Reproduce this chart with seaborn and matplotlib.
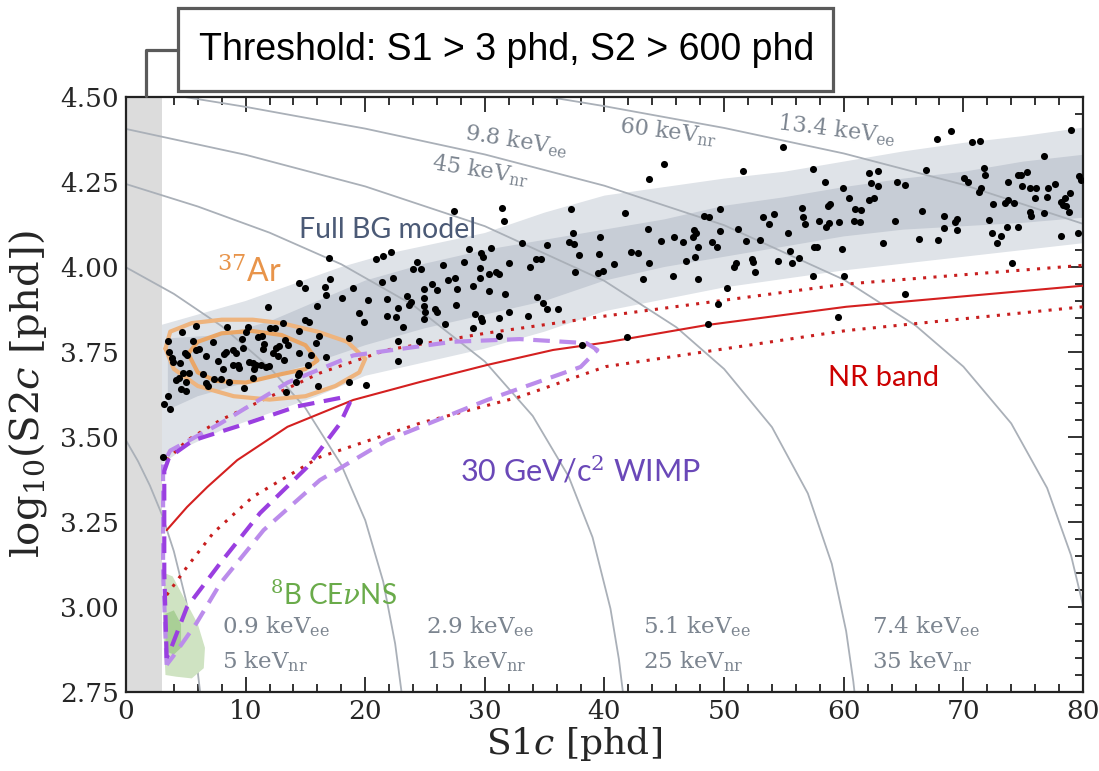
import numpy as np
import pandas as pd
import matplotlib
matplotlib.use("Agg")
import matplotlib.pyplot as plt
import seaborn as sns
from matplotlib.patches import Rectangle
from matplotlib.lines import Line2D

# ---------------- data ----------------
# background events (S1c [phd], log10 S2c)
bg_s1 = [14.49,14.97,17.06,16.67,16.75,18.95,18.06,11.85,15.94,19.51,19.93,14.99,15.33,5.85,4.68,8.42,10.17,12.07,12.43,13.10,
         14.49,16.17,18.67,3.48,5.57,7.25,10.03,11.01,11.34,9.70,13.27,3.62,4.96,5.07,5.85,6.08,6.69,8.22,8.36,8.92,
         9.20,9.75,11.51,11.43,12.54,12.82,13.52,12.26,12.68,13.24,15.89,16.72,15.47,14.49,3.85,3.96,4.52,7.66,8.92,9.39,
         10.31,10.59,10.87,11.29,11.71,11.98,10.73,15.19,8.08,9.48,4.74,5.30,6.41,4.18,4.46,7.39,7.94,8.64,10.59,9.89,
         6.69,6.83,5.02,4.60,5.02,14.49,14.35,14.21,13.38,3.48,3.21,3.68,16.03,18.67,20.07,3.09,17.00,
         27.45,31.41,31.64,37.21,37.35,39.64,33.09,35.20,37.02,37.49,28.71,29.68,29.88,30.55,22.16,21.46,20.91,37.91,39.58,34.28,34.70,
         24.33,23.97,24.67,26.48,28.24,29.63,32.05,33.78,37.55,39.44,39.91,22.36,21.38,26.90,27.54,29.60,30.38,30.94,31.22,25.56,
         26.01,24.89,27.65,28.99,30.38,31.69,20.21,21.83,23.50,23.83,23.64,22.77,24.89,24.89,25.03,25.84,25.98,27.60,34.34,34.90,
         35.18,36.10,21.83,22.58,24.89,26.65,29.18,29.69,29.77,31.22,32.05,33.59,23.19,28.99,31.22,22.72,24.47,22.72,38.13,
         54.90,44.95,43.75,51.56,57.41,58.44,59.92,41.75,49.69,48.35,48.77,56.52,58.66,58.86,56.57,53.29,54.20,53.79,56.80,57.97,
         58.75,58.52,59.58,43.67,51.14,49.69,47.52,47.66,47.43,44.73,45.84,46.54,49.00,49.41,47.80,51.84,53.01,55.35,55.54,57.55,
         57.75,59.86,42.22,42.83,47.60,52.34,
         40.83,43.75,46.82,50.86,51.00,52.45,54.54,55.65,56.24,52.62,43.20,45.76,47.80,57.41,60.00,50.25,49.47,48.63,41.86,59.50,
         68.98,67.78,70.74,71.35,78.96,76.70,66.89,71.71,71.77,70.09,70.37,71.49,71.29,62.10,62.90,62.29,62.85,64.46,65.16,60.42,
         62.07,62.51,60.98,61.45,60.84,61.37,64.30,66.55,68.42,69.26,69.48,68.42,69.48,63.27,66.33,67.86,72.18,72.46,73.72,74.55,
         74.83,75.31,74.89,75.58,76.09,77.06,77.62,77.01,76.00,73.72,73.52,74.27,75.61,75.67,76.78,78.18,78.46,78.32,78.60,78.88,
         78.82,79.63,79.85,79.57,78.12,72.38,73.16,72.80,73.63,74.55,74.08,65.16]
bg_log_s2 = [3.954,3.937,3.964,3.942,3.918,3.939,3.908,3.881,3.886,3.866,3.839,3.844,3.839,3.826,3.810,3.823,3.823,3.820,3.822,3.834,
             3.813,3.798,3.792,3.783,3.782,3.778,3.808,3.793,3.797,3.788,3.785,3.751,3.748,3.741,3.756,3.758,3.739,3.745,3.751,3.756,
             3.746,3.761,3.773,3.758,3.761,3.769,3.771,3.746,3.739,3.726,3.776,3.736,3.741,3.746,3.731,3.720,3.717,3.724,3.712,3.712,
             3.722,3.717,3.712,3.712,3.707,3.709,3.699,3.712,3.699,3.702,3.689,3.687,3.685,3.668,3.675,3.670,3.670,3.661,3.675,3.645,
             3.658,3.650,3.663,3.640,3.635,3.687,3.682,3.663,3.633,3.621,3.597,3.581,3.650,3.663,3.653,3.441,4.026,
             4.165,4.175,4.136,4.171,4.099,4.089,4.071,4.065,4.075,4.068,4.053,4.042,4.028,4.055,4.045,4.033,4.025,4.035,4.037,4.023,4.023,
             4.014,3.993,3.993,4.006,4.016,3.998,4.011,4.001,3.984,3.981,3.988,3.969,3.957,3.962,3.967,3.967,3.979,3.986,3.979,3.949,
             3.932,3.934,3.935,3.944,3.928,3.920,3.903,3.906,3.915,3.898,3.888,3.880,3.908,3.885,3.869,3.876,3.869,3.888,3.911,3.893,
             3.876,3.876,3.857,3.854,3.846,3.832,3.861,3.851,3.841,3.851,3.867,3.856,3.825,3.822,3.797,3.782,3.782,3.724,3.771,
             4.352,4.302,4.258,4.282,4.288,4.249,4.231,4.158,4.171,4.151,4.148,4.175,4.179,4.184,4.148,4.146,4.155,4.126,4.126,4.135,
             4.128,4.119,4.133,4.111,4.112,4.107,4.109,4.099,4.089,4.077,4.087,4.073,4.073,4.060,4.060,4.077,4.080,4.099,4.047,4.060,
             4.058,4.053,4.043,4.041,4.028,4.025,
             4.008,4.011,4.018,4.001,4.011,4.015,4.018,4.013,4.026,3.984,3.965,3.974,3.965,3.974,3.974,3.937,3.891,3.831,3.794,3.852,
             4.401,4.376,4.367,4.371,4.403,4.325,4.285,4.292,4.271,4.263,4.249,4.233,4.222,4.277,4.282,4.246,4.238,4.249,4.241,4.204,
             4.197,4.204,4.172,4.169,4.135,4.133,4.136,4.165,4.150,4.131,4.140,4.114,4.109,4.072,4.082,4.079,4.138,4.185,4.251,4.271,
             4.271,4.280,4.239,4.233,4.231,4.231,4.243,4.207,4.202,4.197,4.187,4.189,4.163,4.151,4.160,4.190,4.202,4.182,4.179,4.219,
             4.163,4.269,4.256,4.101,4.092,4.099,4.092,4.072,4.119,4.117,4.011,3.921]

# Full BG model bands (outer = light, inner = dark)
outer_up_x = [3.0, 6, 10, 14, 18, 22, 26, 30, 35, 40, 45, 50, 55, 60, 65, 70, 75, 80]
outer_up_y = [3.83, 3.86, 3.90, 3.95, 4.00, 4.04, 4.07, 4.10, 4.16, 4.21, 4.235, 4.26, 4.28, 4.31, 4.34, 4.365, 4.385, 4.41]
outer_lo_x = [3.0, 5, 8, 12, 16, 20, 25, 30, 35, 40, 50, 60, 70, 80]
outer_lo_y = [3.42, 3.47, 3.52, 3.57, 3.62, 3.68, 3.72, 3.76, 3.81, 3.87, 3.94, 3.99, 4.03, 4.07]
inner_up_x = [3.5, 8, 12, 16, 20, 25, 30, 35, 40, 45, 50, 55, 60, 65, 70, 75, 80]
inner_up_y = [3.79, 3.80, 3.84, 3.90, 3.96, 4.01, 4.05, 4.08, 4.11, 4.14, 4.18, 4.205, 4.235, 4.26, 4.28, 4.31, 4.33]
inner_lo_x = [3.5, 6, 10, 15, 20, 25, 30, 35, 40, 45, 50, 55, 60, 65, 70, 75, 80]
inner_lo_y = [3.58, 3.62, 3.66, 3.71, 3.77, 3.82, 3.86, 3.90, 3.96, 4.00, 4.03, 4.06, 4.09, 4.11, 4.12, 4.13, 4.145]

# constant-energy contours (grey)
arc09_x = [0, 1, 2, 3, 4, 5, 5.5, 5.8, 6.0, 6.2]
arc09_y = [3.490, 3.429, 3.357, 3.272, 3.164, 3.022, 2.928, 2.860, 2.808, 2.749]
arc29_x = [0, 4, 8, 12, 15, 18, 20, 21.5, 22.5, 23.0, 23.1]
arc29_y = [3.999, 3.921, 3.826, 3.705, 3.585, 3.418, 3.255, 3.075, 2.892, 2.759, 2.727]
arc51_x = [0, 6, 12, 18, 24, 30, 34, 37, 39, 40.5, 41.2, 41.6]
arc51_y = [4.244, 4.178, 4.101, 4.008, 3.888, 3.722, 3.562, 3.384, 3.205, 2.995, 2.847, 2.732]
arc74_x = [0, 10, 20, 30, 40, 46, 50, 54, 57, 59, 60.2, 60.8, 61.0]
arc74_y = [4.406, 4.330, 4.237, 4.120, 3.959, 3.823, 3.700, 3.529, 3.334, 3.127, 2.929, 2.781, 2.718]
arc98_x = [0, 10, 20, 30, 40, 50, 60, 66, 70, 74, 77, 79, 80]
arc98_y = [4.528, 4.471, 4.407, 4.331, 4.239, 4.123, 3.963, 3.828, 3.707, 3.540, 3.350, 3.152, 3.005]
arc134_x = [34, 40, 50, 60, 70, 80]
arc134_y = [4.508, 4.473, 4.409, 4.334, 4.242, 4.127]

# 37Ar contours
ar_out_x = [3.3, 3.7, 5.5, 8.0, 10.6, 13.0, 16.0, 18.5, 20.0, 19.5, 17.5, 15.0, 12.0, 9.0, 6.0, 4.0, 3.3]
ar_out_y = [3.76, 3.81, 3.835, 3.845, 3.845, 3.835, 3.81, 3.78, 3.73, 3.69, 3.65, 3.62, 3.61, 3.62, 3.65, 3.70, 3.76]
ar_in_x = [5.2, 6.0, 8.0, 10.5, 13.0, 15.0, 16.0, 15.0, 13.0, 10.0, 7.5, 6.0, 5.2]
ar_in_y = [3.745, 3.78, 3.805, 3.812, 3.80, 3.77, 3.725, 3.70, 3.685, 3.66, 3.665, 3.69, 3.745]

# 30 GeV WIMP contours
wimp_in_x = [3.4, 3.2, 3.2, 3.6, 5.6, 10.1, 14.3, 17.9, 18.7, 17.9, 15.1, 11.2, 7.9, 5.1, 3.7, 3.4]
wimp_in_y = [2.85, 3.10, 3.40, 3.44, 3.49, 3.54, 3.59, 3.615, 3.60, 3.54, 3.41, 3.276, 3.13, 3.00, 2.873, 2.85]
wimp_out_x = [3.4, 3.1, 3.1, 3.7, 7.9, 13.5, 19.0, 27.3, 32.9, 38.5, 39.4, 38.0, 30.2, 21.8, 16.2, 11.5, 7.9, 5.9, 3.9, 3.4]
wimp_out_y = [2.83, 3.10, 3.42, 3.46, 3.54, 3.66, 3.74, 3.78, 3.788, 3.776, 3.756, 3.706, 3.609, 3.49, 3.373, 3.226, 3.07, 2.953, 2.853, 2.83]

# NR band
nr_x = [3.4, 5.1, 6.8, 9.3, 13.5, 19.0, 24.6, 30.2, 35.7, 40.1, 48.5, 60.2, 80.0]
nr_med = [3.226, 3.294, 3.353, 3.432, 3.530, 3.609, 3.662, 3.712, 3.756, 3.778, 3.829, 3.883, 3.945]
nr_hi_x = [3.4, 5.1, 7.9, 12.0, 16.2, 21.8, 30.2, 40.1, 60.2, 80.0]
nr_hi = [3.432, 3.490, 3.550, 3.618, 3.688, 3.756, 3.806, 3.856, 3.950, 4.005]
nr_lo_x = [3.4, 5.1, 7.3, 10.6, 16.2, 24.6, 32.9, 40.1, 60.2, 80.0]
nr_lo = [3.035, 3.118, 3.218, 3.324, 3.441, 3.541, 3.618, 3.707, 3.813, 3.883]

# 8B CEvNS
b8_out_x = [3.2, 3.9, 4.8, 6.0, 6.6, 6.5, 5.5, 4.2, 3.3, 3.1, 3.2]
b8_out_y = [3.10, 3.09, 3.03, 2.95, 2.88, 2.82, 2.79, 2.795, 2.80, 2.95, 3.10]
b8_in_x = [3.3, 4.0, 4.6, 4.6, 4.0, 3.3]
b8_in_y = [2.98, 2.99, 2.95, 2.88, 2.86, 2.87]

threshold_s1 = 3.0
x_ticks = [0, 10, 20, 30, 40, 50, 60, 70, 80]
y_ticks = [2.75, 3.00, 3.25, 3.50, 3.75, 4.00, 4.25, 4.50]

energy_labels = [(8.0, "0.9", "5"), (25.1, "2.9", "15"), (43.2, "5.1", "25"), (62.4, "7.4", "35")]

# ---------------- drawing ----------------
sns.set_style("ticks")
plt.rcParams["font.family"] = ["DejaVu Serif"]
plt.rcParams["mathtext.fontset"] = "dejavuserif"

fig = plt.figure(figsize=(10.99, 7.71), dpi=100)
ax = fig.add_axes([0.11465, 0.10246, 0.87079, 0.77173])

def line(xs, ys, **kw):
    sns.lineplot(x=xs, y=ys, sort=False, estimator=None, ax=ax, legend=False, **kw)

# bands
ax.fill(outer_up_x + outer_lo_x[::-1], outer_up_y + outer_lo_y[::-1], color="#dfe3e8", lw=0, zorder=1)
ax.fill(inner_up_x + inner_lo_x[::-1], inner_up_y + inner_lo_y[::-1], color="#c7cdd6", lw=0, zorder=1.1)
ax.axvspan(0, threshold_s1, color="#dcdcdc", lw=0, zorder=1.5)

# energy contours
arc_col = "#aab0b8"
for xs, ys in [(arc09_x, arc09_y), (arc29_x, arc29_y), (arc51_x, arc51_y),
               (arc74_x, arc74_y), (arc98_x, arc98_y), (arc134_x, arc134_y)]:
    line(xs, ys, color=arc_col, linewidth=1.3, zorder=2)

# 8B CEvNS
ax.fill(b8_out_x, b8_out_y, color="#cfe3c2", lw=0, zorder=2.5)
ax.fill(b8_in_x, b8_in_y, color="#a9cf96", lw=0, zorder=2.6)

# NR band
line(nr_x, nr_med, color="#d42020", linewidth=1.5, zorder=3)
line(nr_hi_x, nr_hi, color="#c81e1e", linewidth=2.2, linestyle=(0, (1, 2.4)), zorder=3)
line(nr_lo_x, nr_lo, color="#c81e1e", linewidth=2.2, linestyle=(0, (1, 2.4)), zorder=3)

# 37Ar
line(ar_out_x, ar_out_y, color="#eeb47e", linewidth=3, zorder=3.5)
line(ar_in_x, ar_in_y, color="#eaa666", linewidth=3, zorder=3.5)

# WIMP
line(wimp_out_x, wimp_out_y, color="#bb8ceb", linewidth=3, linestyle=(0, (4, 2.3)), zorder=4)
line(wimp_in_x, wimp_in_y, color="#9a3fe0", linewidth=3, linestyle=(0, (4, 2.3)), zorder=4)

# events
sns.scatterplot(x=bg_s1, y=bg_log_s2, color="black", s=26, linewidth=0, ax=ax, zorder=6, legend=False)

# axes
ax.set_xlim(0, 80)
ax.set_ylim(2.75, 4.50)
ax.set_xticks(x_ticks)
ax.set_yticks(y_ticks)
ax.set_xticklabels([str(t) for t in x_ticks])
ax.set_yticklabels([f"{t:.2f}" for t in y_ticks])
ax.set_xticks(np.arange(0, 81, 2), minor=True)
ax.set_yticks(np.arange(2.75, 4.501, 0.05), minor=True)
ax.tick_params(which="both", direction="in", top=True, right=True, width=1.3, color="#222222")
ax.tick_params(which="major", length=11, labelsize=19, pad=5)
ax.tick_params(which="minor", length=6)
for s in ax.spines.values():
    s.set_linewidth(1.6)
    s.set_color("#222222")
ax.set_xlabel("S1$c$ [phd]", fontsize=26)
ax.set_ylabel("log$_{10}$(S2$c$ [phd])", fontsize=29)
ax.xaxis.set_label_coords(0.468, -0.056)
ax.yaxis.set_label_coords(-0.080, 0.50)

# contour energy labels
lab_col = "#7c8590"
for x0, ee, nr in energy_labels:
    ax.text(x0, 2.941, ee + r" keV$_{\rm ee}$", color=lab_col, fontsize=16.5, ha="left", va="center", zorder=7)
    ax.text(x0, 2.840, nr + r" keV$_{\rm nr}$", color=lab_col, fontsize=16.5, ha="left", va="center", zorder=7)
ax.text(32.6, 4.372, r"9.8 keV$_{\rm ee}$", color=lab_col, fontsize=16, ha="center", va="center", rotation=-9, zorder=7)
ax.text(29.6, 4.283, r"45 keV$_{\rm nr}$", color=lab_col, fontsize=16, ha="center", va="center", rotation=-9, zorder=7)
ax.text(45.3, 4.397, r"60 keV$_{\rm nr}$", color=lab_col, fontsize=16, ha="center", va="center", rotation=-7, zorder=7)
ax.text(59.4, 4.403, r"13.4 keV$_{\rm ee}$", color=lab_col, fontsize=16, ha="center", va="center", rotation=-7, zorder=7)

# overlay annotations (sans)
sans = ["Lato", "DejaVu Sans"]
ax.text(21.9, 4.109, "Full BG model", color="#4b5a76", fontsize=20.5, family=sans, ha="center", va="center", zorder=7)
ax.text(10.3, 3.985, r"$^{37}$Ar", color="#e8944a", fontsize=23, family=sans, ha="center", va="center", zorder=7)
ax.text(63.3, 3.674, "NR band", color="#cc0000", fontsize=21, family=sans, ha="center", va="center", zorder=7)
ax.text(38.0, 3.403, r"30 GeV/c$^{2}$ WIMP", color="#6a48b8", fontsize=22, family=sans, ha="center", va="center", zorder=7)
ax.text(17.3, 3.035, r"$^{8}$B CE$\nu$NS", color="#6aab4a", fontsize=20, family=sans, ha="center", va="center", zorder=7)

# threshold box (figure pixels -> figure fraction)
W, H = 1099.0, 771.0
def fx(px): return px / W
def fy(py): return 1 - py / H
fig.add_artist(Rectangle((fx(178), fy(91)), fx(833) - fx(178), fy(8) - fy(91), transform=fig.transFigure,
                         facecolor="white", edgecolor="#5a5a5a", lw=2.3, zorder=10))
fig.add_artist(Line2D([fx(178), fx(146), fx(146)], [fy(50), fy(50), fy(96)], transform=fig.transFigure,
                      color="#5a5a5a", lw=2.3, zorder=10))
fig.text(fx(507), fy(50), "Threshold: S1 > 3 phd, S2 > 600 phd", family=["Liberation Sans", "DejaVu Sans"],
         fontsize=27, ha="center", va="center", color="black", zorder=11)

fig.savefig("out.png", dpi=100)
